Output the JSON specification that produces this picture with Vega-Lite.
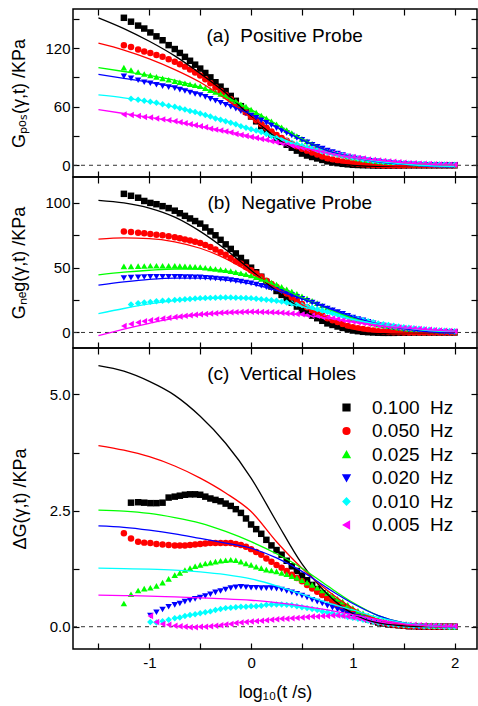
{
"$schema":"https://vega.github.io/schema/vega-lite/v6.json",
"padding":{"left":10,"top":7,"right":0,"bottom":0},
"spacing":0,
"bounds":"flush",
"config":{
 "font":"Liberation Sans",
 "view":{"stroke":"#000","strokeWidth":1.5},
 "axis":{"grid":false,"domain":false,"tickColor":"#000","tickWidth":1.2,"tickSize":-6,"labelFontSize":15,"labelColor":"#000","labelPadding":9,"titleFontSize":18,"titleFontWeight":"normal","titleColor":"#000","labelFont":"Liberation Sans","titleFont":"Liberation Sans","labelOverlap":false,"labelBound":false,"labelFlush":false},
 "legend":{"labelFont":"Liberation Sans","labelColor":"#000"}
},
"datasets":{
"pts":[
{"p":"a","x":-1.25,"s1":151,"s2":123,"s3":100,"s4":91,"s6":52},
{"p":"a","x":-1.18,"s1":147,"s2":121,"s3":97.5,"s4":89,"s5":68,"s6":51.5},
{"p":"a","x":-1.11,"s1":143,"s2":118.5,"s3":95.5,"s4":87,"s5":67,"s6":50.5},
{"p":"a","x":-1.05,"s1":140,"s2":116.5,"s3":93.5,"s4":85,"s5":66,"s6":49.5},
{"p":"a","x":-0.99,"s1":136,"s2":115,"s3":92,"s4":84,"s5":65,"s6":49},
{"p":"a","x":-0.93,"s1":132,"s2":113,"s3":90.5,"s4":82.5,"s5":64,"s6":48},
{"p":"a","x":-0.87,"s1":128,"s2":111,"s3":89,"s4":81,"s5":62.5,"s6":47},
{"p":"a","x":-0.81,"s1":123,"s2":108.5,"s3":87.5,"s4":80,"s5":61,"s6":46},
{"p":"a","x":-0.75,"s1":119,"s2":106,"s3":86,"s4":79,"s5":60,"s6":45},
{"p":"a","x":-0.7,"s1":115,"s2":103.5,"s3":85,"s4":77.5,"s5":58.5,"s6":44},
{"p":"a","x":-0.65,"s1":111,"s2":101,"s3":84,"s4":76,"s5":57,"s6":43},
{"p":"a","x":-0.6,"s1":107,"s2":98,"s3":83,"s4":74.5,"s5":55.5,"s6":42},
{"p":"a","x":-0.55,"s1":103,"s2":95,"s3":82,"s4":73,"s5":54.5,"s6":41},
{"p":"a","x":-0.5,"s1":99,"s2":92,"s3":81,"s4":72,"s5":53,"s6":40},
{"p":"a","x":-0.45,"s1":94.5,"s2":88,"s3":79,"s4":70,"s5":51.5,"s6":39},
{"p":"a","x":-0.4,"s1":90,"s2":84,"s3":77,"s4":68,"s5":50,"s6":37.5},
{"p":"a","x":-0.35,"s1":85,"s2":80,"s3":75,"s4":66,"s5":48,"s6":36.5},
{"p":"a","x":-0.3,"s1":80.5,"s2":76,"s3":73,"s4":64,"s5":46.5,"s6":35.5},
{"p":"a","x":-0.25,"s1":76,"s2":72,"s3":71,"s4":62,"s5":45,"s6":34.5},
{"p":"a","x":-0.2,"s1":71,"s2":67.5,"s3":68,"s4":60,"s5":43.5,"s6":33.5},
{"p":"a","x":-0.15,"s1":66,"s2":63,"s3":65.5,"s4":58,"s5":42,"s6":32},
{"p":"a","x":-0.1,"s1":60.5,"s2":58.5,"s3":62.5,"s4":55.5,"s5":40,"s6":31},
{"p":"a","x":-0.05,"s1":55,"s2":54,"s3":60,"s4":53,"s5":38.5,"s6":30},
{"p":"a","x":0,"s1":50,"s2":50,"s3":57,"s4":51,"s5":37,"s6":29},
{"p":"a","x":0.05,"s1":45,"s2":46,"s3":54,"s4":48.5,"s5":35.5,"s6":28},
{"p":"a","x":0.1,"s1":40,"s2":42,"s3":51,"s4":46,"s5":34,"s6":27},
{"p":"a","x":0.15,"s1":36,"s2":38.5,"s3":48,"s4":43.5,"s5":32,"s6":26},
{"p":"a","x":0.2,"s1":31.5,"s2":34.5,"s3":45,"s4":41,"s5":30,"s6":24.5},
{"p":"a","x":0.25,"s1":27,"s2":31,"s3":42,"s4":38,"s5":28,"s6":23.5},
{"p":"a","x":0.3,"s1":24,"s2":28,"s3":39,"s4":35.5,"s5":26.5,"s6":22.5},
{"p":"a","x":0.35,"s1":21,"s2":25,"s3":36,"s4":33,"s5":25,"s6":21},
{"p":"a","x":0.4,"s1":18,"s2":22,"s3":33,"s4":30.5,"s5":23,"s6":20},
{"p":"a","x":0.45,"s1":15,"s2":19.5,"s3":30,"s4":28,"s5":21.5,"s6":19},
{"p":"a","x":0.5,"s1":12,"s2":17,"s3":27,"s4":26,"s5":20,"s6":18},
{"p":"a","x":0.55,"s1":10,"s2":15,"s3":24.5,"s4":23.5,"s5":18.5,"s6":17},
{"p":"a","x":0.6,"s1":8.5,"s2":13,"s3":22,"s4":21,"s5":17,"s6":16},
{"p":"a","x":0.65,"s1":7,"s2":11,"s3":19.5,"s4":19,"s5":15.5,"s6":15},
{"p":"a","x":0.7,"s1":5.5,"s2":9,"s3":17,"s4":17,"s5":14,"s6":14},
{"p":"a","x":0.75,"s1":4,"s2":7,"s3":15,"s4":15,"s5":13,"s6":13},
{"p":"a","x":0.8,"s1":3,"s2":6,"s3":13.5,"s4":13.5,"s5":12,"s6":12},
{"p":"a","x":0.85,"s1":2.2,"s2":5,"s3":12,"s4":12,"s5":11,"s6":11},
{"p":"a","x":0.9,"s1":1.5,"s2":4,"s3":10.5,"s4":10.5,"s5":10,"s6":10},
{"p":"a","x":0.95,"s1":1,"s2":3,"s3":9,"s4":9,"s5":9,"s6":9},
{"p":"a","x":1,"s1":0.5,"s2":2,"s3":8,"s4":8,"s5":8,"s6":8.5},
{"p":"a","x":1.05,"s1":0.3,"s2":1.5,"s3":7,"s4":7,"s5":7,"s6":7.5},
{"p":"a","x":1.1,"s1":0.1,"s2":1,"s3":6,"s4":6,"s5":6,"s6":7},
{"p":"a","x":1.15,"s1":0,"s2":0.6,"s3":5.3,"s4":5,"s5":5.3,"s6":6},
{"p":"a","x":1.2,"s1":-0.2,"s2":0.3,"s3":4.6,"s4":4.5,"s5":4.6,"s6":5.5},
{"p":"a","x":1.25,"s1":-0.3,"s2":0,"s3":4,"s4":4,"s5":4,"s6":5},
{"p":"a","x":1.3,"s1":-0.3,"s2":-0.2,"s3":3.6,"s4":3.4,"s5":3.5,"s6":4.5},
{"p":"a","x":1.35,"s1":-0.3,"s2":-0.3,"s3":3.2,"s4":2.8,"s5":3,"s6":4},
{"p":"a","x":1.4,"s1":-0.2,"s2":-0.3,"s3":2.8,"s4":2.2,"s5":2.6,"s6":3.5},
{"p":"a","x":1.45,"s1":-0.2,"s2":-0.2,"s3":2.4,"s4":1.8,"s5":2.3,"s6":3},
{"p":"a","x":1.5,"s1":-0.1,"s2":-0.1,"s3":2,"s4":1.5,"s5":2,"s6":2.5},
{"p":"a","x":1.55,"s1":0,"s2":0,"s3":1.8,"s4":1.2,"s5":1.8,"s6":2.2},
{"p":"a","x":1.6,"s1":0,"s2":0,"s3":1.6,"s4":1,"s5":1.6,"s6":2},
{"p":"a","x":1.65,"s1":0,"s2":0,"s3":1.4,"s4":0.8,"s5":1.4,"s6":1.7},
{"p":"a","x":1.7,"s1":0,"s2":0,"s3":1.2,"s4":0.6,"s5":1.2,"s6":1.5},
{"p":"a","x":1.75,"s1":0,"s2":0,"s3":1.1,"s4":0.5,"s5":1,"s6":1.2},
{"p":"a","x":1.8,"s1":0,"s2":0,"s3":1,"s4":0.4,"s5":0.9,"s6":1},
{"p":"a","x":1.85,"s1":0,"s2":0,"s3":0.9,"s4":0.3,"s5":0.8,"s6":0.9},
{"p":"a","x":1.9,"s1":0,"s2":0,"s3":0.8,"s4":0.2,"s5":0.7,"s6":0.7},
{"p":"a","x":1.95,"s1":0,"s2":0,"s3":0.7,"s4":0.1,"s5":0.6,"s6":0.6},
{"p":"a","x":2,"s1":0,"s2":0,"s3":0.6,"s4":0,"s5":0.5,"s6":0.5},
{"p":"b","x":-1.25,"s1":107,"s2":78,"s3":51,"s4":42,"s6":5},
{"p":"b","x":-1.18,"s1":105.5,"s2":77.5,"s3":51,"s4":42.3,"s5":21.5,"s6":6.5},
{"p":"b","x":-1.11,"s1":104,"s2":77,"s3":51.2,"s4":42.6,"s5":22.5,"s6":7.7},
{"p":"b","x":-1.05,"s1":101.5,"s2":76.5,"s3":51.3,"s4":42.8,"s5":23.2,"s6":8.7},
{"p":"b","x":-0.99,"s1":100,"s2":76,"s3":51.5,"s4":43,"s5":23.6,"s6":9.5},
{"p":"b","x":-0.93,"s1":99,"s2":75.5,"s3":51.5,"s4":43,"s5":24,"s6":10.1},
{"p":"b","x":-0.87,"s1":97.5,"s2":75,"s3":51.5,"s4":43,"s5":24.4,"s6":10.7},
{"p":"b","x":-0.81,"s1":96,"s2":74.2,"s3":51.5,"s4":43,"s5":24.7,"s6":11.3},
{"p":"b","x":-0.75,"s1":94,"s2":73.5,"s3":51.5,"s4":43,"s5":25,"s6":12},
{"p":"b","x":-0.7,"s1":92,"s2":72.7,"s3":51.3,"s4":42.9,"s5":25.3,"s6":12.4},
{"p":"b","x":-0.65,"s1":90,"s2":71.8,"s3":51.1,"s4":42.8,"s5":25.6,"s6":12.8},
{"p":"b","x":-0.6,"s1":88,"s2":71,"s3":50.9,"s4":42.7,"s5":25.9,"s6":13.2},
{"p":"b","x":-0.55,"s1":86,"s2":70,"s3":50.7,"s4":42.6,"s5":26.2,"s6":13.6},
{"p":"b","x":-0.5,"s1":84,"s2":69,"s3":50.5,"s4":42.5,"s5":26.5,"s6":14},
{"p":"b","x":-0.45,"s1":81,"s2":67.5,"s3":50,"s4":42.2,"s5":26.6,"s6":14.3},
{"p":"b","x":-0.4,"s1":78,"s2":66,"s3":49.5,"s4":41.9,"s5":26.7,"s6":14.6},
{"p":"b","x":-0.35,"s1":75,"s2":64,"s3":49,"s4":41.6,"s5":26.8,"s6":14.9},
{"p":"b","x":-0.3,"s1":71.5,"s2":62,"s3":48.5,"s4":41.3,"s5":26.9,"s6":15.2},
{"p":"b","x":-0.25,"s1":68,"s2":60,"s3":48,"s4":41,"s5":27,"s6":15.5},
{"p":"b","x":-0.2,"s1":64.5,"s2":57.5,"s3":47.3,"s4":40.4,"s5":26.9,"s6":15.6},
{"p":"b","x":-0.15,"s1":61,"s2":55,"s3":46.5,"s4":39.8,"s5":26.8,"s6":15.7},
{"p":"b","x":-0.1,"s1":57.5,"s2":53,"s3":45.7,"s4":39.2,"s5":26.7,"s6":15.8},
{"p":"b","x":-0.05,"s1":54,"s2":50.5,"s3":44.9,"s4":38.6,"s5":26.6,"s6":15.9},
{"p":"b","x":0,"s1":50,"s2":48,"s3":44,"s4":38,"s5":26.5,"s6":16},
{"p":"b","x":0.05,"s1":46.5,"s2":45.5,"s3":42.7,"s4":37,"s5":26.1,"s6":15.9},
{"p":"b","x":0.1,"s1":43,"s2":43,"s3":41.3,"s4":36,"s5":25.7,"s6":15.8},
{"p":"b","x":0.15,"s1":39,"s2":40,"s3":40,"s4":35,"s5":25.3,"s6":15.7},
{"p":"b","x":0.2,"s1":35.5,"s2":37.5,"s3":38.5,"s4":34,"s5":24.9,"s6":15.6},
{"p":"b","x":0.25,"s1":32,"s2":35,"s3":37,"s4":33,"s5":24.5,"s6":15.5},
{"p":"b","x":0.3,"s1":29,"s2":32.5,"s3":35.2,"s4":31.6,"s5":23.8,"s6":15.2},
{"p":"b","x":0.35,"s1":26,"s2":30,"s3":33.4,"s4":30.2,"s5":23.1,"s6":14.9},
{"p":"b","x":0.4,"s1":23,"s2":27,"s3":31.6,"s4":28.8,"s5":22.4,"s6":14.6},
{"p":"b","x":0.45,"s1":20,"s2":24.5,"s3":29.8,"s4":27.4,"s5":21.7,"s6":14.3},
{"p":"b","x":0.5,"s1":17,"s2":22,"s3":28,"s4":26,"s5":21,"s6":14},
{"p":"b","x":0.55,"s1":15,"s2":19.5,"s3":26.2,"s4":24.5,"s5":20,"s6":13.5},
{"p":"b","x":0.6,"s1":13,"s2":17,"s3":24.4,"s4":23,"s5":19,"s6":13},
{"p":"b","x":0.65,"s1":11,"s2":15,"s3":22.6,"s4":21.5,"s5":18,"s6":12.5},
{"p":"b","x":0.7,"s1":9,"s2":13,"s3":20.8,"s4":20,"s5":17,"s6":12},
{"p":"b","x":0.75,"s1":7,"s2":11,"s3":19,"s4":18.5,"s5":16,"s6":11.5},
{"p":"b","x":0.8,"s1":5.8,"s2":9.5,"s3":17.4,"s4":17.1,"s5":15,"s6":10.9},
{"p":"b","x":0.85,"s1":4.6,"s2":8,"s3":15.8,"s4":15.7,"s5":14,"s6":10.3},
{"p":"b","x":0.9,"s1":3.5,"s2":6.5,"s3":14.2,"s4":14.3,"s5":13,"s6":9.7},
{"p":"b","x":0.95,"s1":2.5,"s2":5,"s3":12.6,"s4":12.9,"s5":12,"s6":9.1},
{"p":"b","x":1,"s1":1.5,"s2":4,"s3":11,"s4":11.5,"s5":11,"s6":8.5},
{"p":"b","x":1.05,"s1":1,"s2":3.3,"s3":10,"s4":10.4,"s5":10.2,"s6":7.9},
{"p":"b","x":1.1,"s1":0.5,"s2":2.6,"s3":9,"s4":9.3,"s5":9.4,"s6":7.3},
{"p":"b","x":1.15,"s1":0.2,"s2":2,"s3":8,"s4":8.2,"s5":8.6,"s6":6.7},
{"p":"b","x":1.2,"s1":0,"s2":1.5,"s3":7,"s4":7.1,"s5":7.8,"s6":6.1},
{"p":"b","x":1.25,"s1":-0.2,"s2":1,"s3":6,"s4":6,"s5":7,"s6":5.5},
{"p":"b","x":1.3,"s1":-0.3,"s2":0.7,"s3":5.4,"s4":5.3,"s5":6.4,"s6":5.1},
{"p":"b","x":1.35,"s1":-0.3,"s2":0.4,"s3":4.8,"s4":4.6,"s5":5.8,"s6":4.7},
{"p":"b","x":1.4,"s1":-0.3,"s2":0.2,"s3":4.2,"s4":3.9,"s5":5.2,"s6":4.3},
{"p":"b","x":1.45,"s1":-0.2,"s2":0.1,"s3":3.6,"s4":3.2,"s5":4.6,"s6":3.9},
{"p":"b","x":1.5,"s1":-0.2,"s2":0,"s3":3,"s4":2.5,"s5":4,"s6":3.5},
{"p":"b","x":1.55,"s1":-0.1,"s2":0,"s3":2.7,"s4":2.1,"s5":3.6,"s6":3.2},
{"p":"b","x":1.6,"s1":0,"s2":0,"s3":2.4,"s4":1.7,"s5":3.2,"s6":2.9},
{"p":"b","x":1.65,"s1":0,"s2":0,"s3":2.1,"s4":1.3,"s5":2.8,"s6":2.6},
{"p":"b","x":1.7,"s1":0,"s2":0,"s3":1.8,"s4":0.9,"s5":2.4,"s6":2.3},
{"p":"b","x":1.75,"s1":0,"s2":0,"s3":1.5,"s4":0.5,"s5":2,"s6":2},
{"p":"b","x":1.8,"s1":0,"s2":0,"s3":1.4,"s4":0.4,"s5":1.8,"s6":1.8},
{"p":"b","x":1.85,"s1":0,"s2":0,"s3":1.2,"s4":0.3,"s5":1.6,"s6":1.6},
{"p":"b","x":1.9,"s1":0,"s2":0,"s3":1.1,"s4":0.2,"s5":1.4,"s6":1.4},
{"p":"b","x":1.95,"s1":0,"s2":0,"s3":0.9,"s4":0.1,"s5":1.2,"s6":1.2},
{"p":"b","x":2,"s1":0,"s2":0,"s3":0.8,"s4":0,"s5":1,"s6":1},
{"p":"c","x":-1.25,"s2":2.01,"s3":0.5},
{"p":"c","x":-1.18,"s1":2.67,"s2":1.9,"s3":0.7},
{"p":"c","x":-1.11,"s1":2.68,"s2":1.83,"s3":0.78},
{"p":"c","x":-1.05,"s1":2.67,"s2":1.81,"s3":0.82},
{"p":"c","x":-0.99,"s1":2.66,"s2":1.8,"s3":0.84,"s4":0.24,"s5":0.1,"s6":0.23},
{"p":"c","x":-0.93,"s1":2.66,"s2":1.78,"s3":0.88,"s4":0.31,"s5":0.09,"s6":0.1},
{"p":"c","x":-0.87,"s1":2.67,"s2":1.77,"s3":0.95,"s4":0.37,"s5":0.12,"s6":0.06},
{"p":"c","x":-0.81,"s1":2.78,"s2":1.76,"s3":1.03,"s4":0.43,"s5":0.15,"s6":0.04},
{"p":"c","x":-0.75,"s1":2.8,"s2":1.75,"s3":1.11,"s4":0.47,"s5":0.18,"s6":0.02},
{"p":"c","x":-0.7,"s1":2.82,"s2":1.75,"s3":1.16,"s4":0.5,"s5":0.2,"s6":0.01},
{"p":"c","x":-0.65,"s1":2.84,"s2":1.75,"s3":1.22,"s4":0.54,"s5":0.23,"s6":0},
{"p":"c","x":-0.6,"s1":2.85,"s2":1.76,"s3":1.26,"s4":0.57,"s5":0.25,"s6":-0.01},
{"p":"c","x":-0.55,"s1":2.85,"s2":1.77,"s3":1.3,"s4":0.6,"s5":0.27,"s6":-0.01},
{"p":"c","x":-0.5,"s1":2.84,"s2":1.78,"s3":1.33,"s4":0.63,"s5":0.29,"s6":0},
{"p":"c","x":-0.45,"s1":2.8,"s2":1.79,"s3":1.36,"s4":0.66,"s5":0.31,"s6":0},
{"p":"c","x":-0.4,"s1":2.76,"s2":1.8,"s3":1.38,"s4":0.7,"s5":0.33,"s6":0.01},
{"p":"c","x":-0.35,"s1":2.73,"s2":1.8,"s3":1.4,"s4":0.74,"s5":0.36,"s6":0.02},
{"p":"c","x":-0.3,"s1":2.7,"s2":1.8,"s3":1.42,"s4":0.77,"s5":0.38,"s6":0.03},
{"p":"c","x":-0.25,"s1":2.65,"s2":1.8,"s3":1.43,"s4":0.8,"s5":0.4,"s6":0.05},
{"p":"c","x":-0.2,"s1":2.6,"s2":1.8,"s3":1.44,"s4":0.83,"s5":0.41,"s6":0.06},
{"p":"c","x":-0.15,"s1":2.53,"s2":1.78,"s3":1.43,"s4":0.85,"s5":0.42,"s6":0.08},
{"p":"c","x":-0.1,"s1":2.45,"s2":1.76,"s3":1.4,"s4":0.86,"s5":0.43,"s6":0.09},
{"p":"c","x":-0.05,"s1":2.33,"s2":1.72,"s3":1.36,"s4":0.85,"s5":0.43,"s6":0.1},
{"p":"c","x":0,"s1":2.2,"s2":1.67,"s3":1.33,"s4":0.84,"s5":0.44,"s6":0.11},
{"p":"c","x":0.05,"s1":2.1,"s2":1.61,"s3":1.29,"s4":0.84,"s5":0.44,"s6":0.12},
{"p":"c","x":0.1,"s1":2,"s2":1.55,"s3":1.26,"s4":0.83,"s5":0.45,"s6":0.13},
{"p":"c","x":0.15,"s1":1.87,"s2":1.47,"s3":1.23,"s4":0.83,"s5":0.47,"s6":0.14},
{"p":"c","x":0.2,"s1":1.75,"s2":1.4,"s3":1.21,"s4":0.83,"s5":0.48,"s6":0.15},
{"p":"c","x":0.25,"s1":1.65,"s2":1.33,"s3":1.19,"s4":0.82,"s5":0.48,"s6":0.16},
{"p":"c","x":0.3,"s1":1.55,"s2":1.27,"s3":1.16,"s4":0.8,"s5":0.48,"s6":0.17},
{"p":"c","x":0.35,"s1":1.42,"s2":1.2,"s3":1.13,"s4":0.77,"s5":0.47,"s6":0.17},
{"p":"c","x":0.4,"s1":1.3,"s2":1.12,"s3":1.09,"s4":0.74,"s5":0.46,"s6":0.18},
{"p":"c","x":0.45,"s1":1.2,"s2":1.05,"s3":1.05,"s4":0.71,"s5":0.44,"s6":0.19},
{"p":"c","x":0.5,"s1":1.1,"s2":0.98,"s3":1,"s4":0.67,"s5":0.42,"s6":0.2},
{"p":"c","x":0.55,"s1":1,"s2":0.9,"s3":0.95,"s4":0.63,"s5":0.4,"s6":0.21},
{"p":"c","x":0.6,"s1":0.9,"s2":0.82,"s3":0.9,"s4":0.58,"s5":0.38,"s6":0.22},
{"p":"c","x":0.65,"s1":0.81,"s2":0.75,"s3":0.84,"s4":0.54,"s5":0.36,"s6":0.22},
{"p":"c","x":0.7,"s1":0.72,"s2":0.68,"s3":0.78,"s4":0.5,"s5":0.33,"s6":0.23},
{"p":"c","x":0.75,"s1":0.63,"s2":0.61,"s3":0.72,"s4":0.45,"s5":0.31,"s6":0.23},
{"p":"c","x":0.8,"s1":0.55,"s2":0.55,"s3":0.67,"s4":0.41,"s5":0.29,"s6":0.24},
{"p":"c","x":0.85,"s1":0.48,"s2":0.48,"s3":0.6,"s4":0.37,"s5":0.26,"s6":0.24},
{"p":"c","x":0.9,"s1":0.42,"s2":0.42,"s3":0.54,"s4":0.33,"s5":0.24,"s6":0.23},
{"p":"c","x":0.95,"s1":0.36,"s2":0.37,"s3":0.47,"s4":0.29,"s5":0.21,"s6":0.22},
{"p":"c","x":1,"s1":0.3,"s2":0.32,"s3":0.4,"s4":0.25,"s5":0.19,"s6":0.2},
{"p":"c","x":1.05,"s1":0.25,"s2":0.26,"s3":0.34,"s4":0.21,"s5":0.17,"s6":0.18},
{"p":"c","x":1.1,"s1":0.2,"s2":0.21,"s3":0.29,"s4":0.18,"s5":0.15,"s6":0.16},
{"p":"c","x":1.15,"s1":0.16,"s2":0.17,"s3":0.24,"s4":0.14,"s5":0.13,"s6":0.14},
{"p":"c","x":1.2,"s1":0.12,"s2":0.13,"s3":0.2,"s4":0.11,"s5":0.11,"s6":0.12},
{"p":"c","x":1.25,"s1":0.09,"s2":0.1,"s3":0.16,"s4":0.09,"s5":0.09,"s6":0.1},
{"p":"c","x":1.3,"s1":0.07,"s2":0.08,"s3":0.13,"s4":0.07,"s5":0.08,"s6":0.09},
{"p":"c","x":1.35,"s1":0.05,"s2":0.06,"s3":0.1,"s4":0.05,"s5":0.06,"s6":0.08},
{"p":"c","x":1.4,"s1":0.04,"s2":0.04,"s3":0.08,"s4":0.04,"s5":0.05,"s6":0.07},
{"p":"c","x":1.45,"s1":0.03,"s2":0.03,"s3":0.06,"s4":0.03,"s5":0.04,"s6":0.06},
{"p":"c","x":1.5,"s1":0.02,"s2":0.02,"s3":0.05,"s4":0.02,"s5":0.03,"s6":0.05},
{"p":"c","x":1.55,"s1":0.01,"s2":0.01,"s3":0.04,"s4":0.01,"s5":0.03,"s6":0.04},
{"p":"c","x":1.6,"s1":0.01,"s2":0.01,"s3":0.03,"s4":0,"s5":0.02,"s6":0.04},
{"p":"c","x":1.65,"s1":0,"s2":0,"s3":0.03,"s4":-0.01,"s5":0.02,"s6":0.03},
{"p":"c","x":1.7,"s1":0,"s2":0,"s3":0.02,"s4":-0.01,"s5":0.01,"s6":0.03},
{"p":"c","x":1.75,"s1":0,"s2":0,"s3":0.02,"s5":0.01,"s6":0.02},
{"p":"c","x":1.8,"s1":0,"s2":0,"s3":0.01,"s5":0.01,"s6":0.02},
{"p":"c","x":1.85,"s1":0,"s2":0,"s3":0.01,"s5":0.01,"s6":0.01},
{"p":"c","x":1.9,"s1":0,"s2":0,"s3":0.01,"s5":0,"s6":0.01},
{"p":"c","x":1.95,"s1":0,"s2":0,"s3":0,"s5":0,"s6":0.01},
{"p":"c","x":2,"s1":0,"s2":0,"s3":0,"s5":0,"s6":0.01}
],
"fit":[
{"p":"a","x":-1.5,"s1":151,"s2":125,"s3":100,"s4":93,"s5":72,"s6":57},
{"p":"a","x":-1.25,"s1":140,"s2":118,"s3":96,"s4":89,"s5":69,"s6":53},
{"p":"a","x":-1,"s1":127,"s2":109,"s3":92,"s4":85,"s5":65,"s6":49},
{"p":"a","x":-0.75,"s1":112,"s2":98,"s3":87,"s4":80,"s5":59.5,"s6":45},
{"p":"a","x":-0.5,"s1":94,"s2":85,"s3":80,"s4":73,"s5":53,"s6":40},
{"p":"a","x":-0.25,"s1":74,"s2":68,"s3":70,"s4":63,"s5":45.5,"s6":35},
{"p":"a","x":0,"s1":50,"s2":49,"s3":57,"s4":52,"s5":37,"s6":29.5},
{"p":"a","x":0.25,"s1":28,"s2":32,"s3":42,"s4":39,"s5":28.5,"s6":24},
{"p":"a","x":0.5,"s1":12,"s2":19,"s3":27,"s4":26,"s5":20,"s6":18},
{"p":"a","x":0.75,"s1":3,"s2":8,"s3":15,"s4":15,"s5":13,"s6":13},
{"p":"a","x":1,"s1":0,"s2":2.5,"s3":8,"s4":8,"s5":8,"s6":8},
{"p":"a","x":1.25,"s1":-1,"s2":0,"s3":4,"s4":3.5,"s5":4,"s6":5},
{"p":"a","x":1.5,"s1":-0.5,"s2":-0.5,"s3":2,"s4":1,"s5":1.3,"s6":2.5},
{"p":"a","x":1.75,"s1":0,"s2":0,"s3":1,"s4":-1,"s5":-0.5,"s6":1},
{"p":"a","x":2,"s1":0,"s2":0,"s3":0.5,"s4":-1.5,"s5":-1,"s6":0.3},
{"p":"b","x":-1.5,"s1":102,"s2":72,"s3":44.5,"s4":36.5,"s5":14.5,"s6":-2.5},
{"p":"b","x":-1.25,"s1":100,"s2":73,"s3":46.5,"s4":39,"s5":18.5,"s6":2.5},
{"p":"b","x":-1,"s1":96,"s2":72.5,"s3":48,"s4":41,"s5":22,"s6":7},
{"p":"b","x":-0.75,"s1":89,"s2":70,"s3":49,"s4":42,"s5":24.5,"s6":11},
{"p":"b","x":-0.5,"s1":78,"s2":65,"s3":49,"s4":42,"s5":26,"s6":13.5},
{"p":"b","x":-0.25,"s1":64,"s2":57,"s3":47.5,"s4":40.5,"s5":26.5,"s6":15},
{"p":"b","x":0,"s1":48,"s2":46,"s3":43.5,"s4":37.5,"s5":26,"s6":15.5},
{"p":"b","x":0.25,"s1":32,"s2":34,"s3":36,"s4":32.5,"s5":24,"s6":15},
{"p":"b","x":0.5,"s1":18,"s2":21.5,"s3":27,"s4":26,"s5":20,"s6":13.5},
{"p":"b","x":0.75,"s1":7,"s2":11,"s3":18.5,"s4":19,"s5":15,"s6":11},
{"p":"b","x":1,"s1":1.5,"s2":4,"s3":11,"s4":12,"s5":10,"s6":8},
{"p":"b","x":1.25,"s1":-1,"s2":0.5,"s3":6,"s4":6.5,"s5":6.5,"s6":5.5},
{"p":"b","x":1.5,"s1":-0.8,"s2":-0.5,"s3":3,"s4":3,"s5":3.5,"s6":3.5},
{"p":"b","x":1.75,"s1":-0.3,"s2":-0.3,"s3":1.5,"s4":0.5,"s5":1.5,"s6":2},
{"p":"b","x":2,"s1":0,"s2":0,"s3":0.8,"s4":-0.5,"s5":0.8,"s6":1},
{"p":"c","x":-1.5,"s1":5.62,"s2":3.9,"s3":2.51,"s4":2.17,"s5":1.26,"s6":0.68},
{"p":"c","x":-1.25,"s1":5.5,"s2":3.8,"s3":2.49,"s4":2.14,"s5":1.25,"s6":0.67},
{"p":"c","x":-1,"s1":5.28,"s2":3.66,"s3":2.44,"s4":2.08,"s5":1.24,"s6":0.66},
{"p":"c","x":-0.75,"s1":4.98,"s2":3.46,"s3":2.35,"s4":2,"s5":1.22,"s6":0.64},
{"p":"c","x":-0.5,"s1":4.53,"s2":3.2,"s3":2.23,"s4":1.9,"s5":1.18,"s6":0.62},
{"p":"c","x":-0.25,"s1":3.95,"s2":2.88,"s3":2.05,"s4":1.8,"s5":1.12,"s6":0.6},
{"p":"c","x":0,"s1":3.2,"s2":2.48,"s3":1.83,"s4":1.69,"s5":1.03,"s6":0.57},
{"p":"c","x":0.25,"s1":2.26,"s2":1.83,"s3":1.57,"s4":1.48,"s5":0.88,"s6":0.52},
{"p":"c","x":0.5,"s1":1.35,"s2":1.26,"s3":1.26,"s4":1.19,"s5":0.7,"s6":0.45},
{"p":"c","x":0.75,"s1":0.7,"s2":0.78,"s3":0.88,"s4":0.83,"s5":0.52,"s6":0.36},
{"p":"c","x":1,"s1":0.28,"s2":0.4,"s3":0.52,"s4":0.5,"s5":0.36,"s6":0.26},
{"p":"c","x":1.25,"s1":0.08,"s2":0.15,"s3":0.24,"s4":0.24,"s5":0.2,"s6":0.15},
{"p":"c","x":1.5,"s1":0.02,"s2":0.05,"s3":0.08,"s4":0.08,"s5":0.08,"s6":0.06},
{"p":"c","x":1.75,"s1":0,"s2":0.01,"s3":0.02,"s4":0.02,"s5":0.02,"s6":0.02},
{"p":"c","x":2,"s1":0,"s2":0,"s3":0,"s4":0,"s5":0,"s6":0}
]
},
"resolve":{"scale":{"color":"independent","shape":"independent"},"legend":{"color":"independent","shape":"independent"}},
"vconcat":[
{
 "width":404,"height":168,
 "layer":[
  {"data":{"values":[{}]},"mark":{"type":"rule","strokeDash":[4,4],"stroke":"#333","strokeWidth":1},
   "encoding":{"y":{"datum":0,"type":"quantitative","scale":{"domain":[-12,160],"nice":false,"zero":false},"axis":null}}},
  {"data":{"name":"pts"},
   "transform":[{"filter":"datum.p==='a'"},{"fold":["s1","s2","s3","s4","s5","s6"],"as":["s","v"]},{"filter":"isValid(datum.v)"}],
   "mark":{"type":"point","filled":true,"size":42,"opacity":1,"clip":true},
   "encoding":{
    "x":{"field":"x","type":"quantitative","scale":{"domain":[-1.75,2.22],"nice":false,"zero":false},"axis":{"orient":"bottom","values":[-1.5,-1,-0.5,0,0.5,1,1.5,2],"labels":false,"title":null}},
    "y":{"field":"v","type":"quantitative","scale":{"domain":[-12,160],"nice":false,"zero":false},"axis":{"orient":"left","values":[0,30,60,90,120,150],"labelExpr":"datum.value % 60 === 0 ? '' + datum.value : ''","title":"Gₚₒₛ(γ,t) /KPa","titlePadding":16}},
    "color":{"field":"s","type":"nominal","scale":{"domain":["s1","s2","s3","s4","s5","s6"],"range":["#000000","#ff0000","#00ff00","#0000ff","#00ffff","#ff00ff"]},"legend":null},
    "shape":{"field":"s","type":"nominal","scale":{"domain":["s1","s2","s3","s4","s5","s6"],"range":["square","circle","triangle-up","triangle-down","diamond","triangle-left"]},"legend":null},
    "order":{"field":"s","type":"ordinal"}
   }},
  {"data":{"name":"fit"},
   "transform":[{"filter":"datum.p==='a'"},{"fold":["s1","s2","s3","s4","s5","s6"],"as":["s","v"]},{"filter":"isValid(datum.v)"}],
   "mark":{"type":"line","interpolate":"monotone","strokeWidth":1.3,"clip":true},
   "encoding":{
    "x":{"field":"x","type":"quantitative","scale":{"domain":[-1.75,2.22],"nice":false,"zero":false},"axis":{"orient":"top","values":[-1.5,-1,-0.5,0,0.5,1,1.5,2],"labels":false,"title":null}},
    "y":{"field":"v","type":"quantitative","scale":{"domain":[-12,160],"nice":false,"zero":false},"axis":{"orient":"right","values":[0,30,60,90,120,150],"labels":false,"title":null}},
    "color":{"field":"s","type":"nominal","scale":{"domain":["s1","s2","s3","s4","s5","s6"],"range":["#000000","#ff0000","#00ff00","#0000ff","#00ffff","#ff00ff"]},"legend":null}
   }},
  {"data":{"values":[{}]},"mark":{"type":"text","fontSize":19,"font":"Liberation Sans","color":"#000","align":"center","baseline":"middle"},
   "encoding":{"x":{"datum":0.33,"type":"quantitative","axis":null},"y":{"datum":132,"type":"quantitative","axis":null},"text":{"value":"(a)\u00a0\u00a0Positive Probe"}}}
 ],
 "resolve":{"axis":{"x":"independent","y":"independent"}}
},
{
 "width":404,"height":171,
 "layer":[
  {"data":{"values":[{}]},"mark":{"type":"rule","strokeDash":[4,4],"stroke":"#333","strokeWidth":1},
   "encoding":{"y":{"datum":0,"type":"quantitative","scale":{"domain":[-12,120],"nice":false,"zero":false},"axis":null}}},
  {"data":{"name":"pts"},
   "transform":[{"filter":"datum.p==='b'"},{"fold":["s1","s2","s3","s4","s5","s6"],"as":["s","v"]},{"filter":"isValid(datum.v)"}],
   "mark":{"type":"point","filled":true,"size":42,"opacity":1,"clip":true},
   "encoding":{
    "x":{"field":"x","type":"quantitative","scale":{"domain":[-1.75,2.22],"nice":false,"zero":false},"axis":{"orient":"bottom","values":[-1.5,-1,-0.5,0,0.5,1,1.5,2],"labels":false,"title":null}},
    "y":{"field":"v","type":"quantitative","scale":{"domain":[-12,120],"nice":false,"zero":false},"axis":{"orient":"left","values":[0,25,50,75,100],"labelExpr":"datum.value % 50 === 0 ? '' + datum.value : ''","title":"Gₙₑg(γ,t) /KPa","titlePadding":16}},
    "color":{"field":"s","type":"nominal","scale":{"domain":["s1","s2","s3","s4","s5","s6"],"range":["#000000","#ff0000","#00ff00","#0000ff","#00ffff","#ff00ff"]},"legend":null},
    "shape":{"field":"s","type":"nominal","scale":{"domain":["s1","s2","s3","s4","s5","s6"],"range":["square","circle","triangle-up","triangle-down","diamond","triangle-left"]},"legend":null},
    "order":{"field":"s","type":"ordinal"}
   }},
  {"data":{"name":"fit"},
   "transform":[{"filter":"datum.p==='b'"},{"fold":["s1","s2","s3","s4","s5","s6"],"as":["s","v"]},{"filter":"isValid(datum.v)"}],
   "mark":{"type":"line","interpolate":"monotone","strokeWidth":1.3,"clip":true},
   "encoding":{
    "x":{"field":"x","type":"quantitative","scale":{"domain":[-1.75,2.22],"nice":false,"zero":false},"axis":{"orient":"top","values":[-1.5,-1,-0.5,0,0.5,1,1.5,2],"labels":false,"title":null}},
    "y":{"field":"v","type":"quantitative","scale":{"domain":[-12,120],"nice":false,"zero":false},"axis":{"orient":"right","values":[0,25,50,75,100],"labels":false,"title":null}},
    "color":{"field":"s","type":"nominal","scale":{"domain":["s1","s2","s3","s4","s5","s6"],"range":["#000000","#ff0000","#00ff00","#0000ff","#00ffff","#ff00ff"]},"legend":null}
   }},
  {"data":{"values":[{}]},"mark":{"type":"text","fontSize":19,"font":"Liberation Sans","color":"#000","align":"center","baseline":"middle"},
   "encoding":{"x":{"datum":0.38,"type":"quantitative","axis":null},"y":{"datum":99.7,"type":"quantitative","axis":null},"text":{"value":"(b)\u00a0\u00a0Negative Probe"}}}
 ],
 "resolve":{"axis":{"x":"independent","y":"independent"}}
},
{
 "width":404,"height":301,
 "layer":[
  {"data":{"values":[{}]},"mark":{"type":"rule","strokeDash":[4,4],"stroke":"#333","strokeWidth":1},
   "encoding":{"y":{"datum":0,"type":"quantitative","scale":{"domain":[-0.48,6],"nice":false,"zero":false},"axis":null}}},
  {"data":{"name":"pts"},
   "transform":[{"filter":"datum.p==='c'"},{"fold":["s1","s2","s3","s4","s5","s6"],"as":["s","v"]},{"filter":"isValid(datum.v)"}],
   "mark":{"type":"point","filled":true,"size":42,"opacity":1,"clip":true},
   "encoding":{
    "x":{"field":"x","type":"quantitative","scale":{"domain":[-1.75,2.22],"nice":false,"zero":false},"axis":{"orient":"bottom","values":[-1.5,-1,-0.5,0,0.5,1,1.5,2],"labelExpr":"datum.value % 1 === 0 ? (datum.value < 0 ? '-' + abs(datum.value) : '' + datum.value) : ''","title":"log₁₀(t /s)","labelPadding":12,"titlePadding":13}},
    "y":{"field":"v","type":"quantitative","scale":{"domain":[-0.48,6],"nice":false,"zero":false},"axis":{"orient":"left","values":[0,1.25,2.5,3.75,5],"labelExpr":"datum.value % 2.5 === 0 ? format(datum.value, '.1f') : ''","title":"ΔG(γ,t) /KPa","titlePadding":20}},
    "color":{"field":"s","type":"nominal","scale":{"domain":["s1","s2","s3","s4","s5","s6"],"range":["#000000","#ff0000","#00ff00","#0000ff","#00ffff","#ff00ff"]},
      "legend":{"orient":"none","legendX":264,"legendY":50,"title":null,"padding":0,"labelFontSize":19,"labelOffset":16,"symbolSize":45,"rowPadding":3.5,"labelExpr":"datum.value==='s1'?'0.100\u00a0\u00a0Hz':datum.value==='s2'?'0.050\u00a0\u00a0Hz':datum.value==='s3'?'0.025\u00a0\u00a0Hz':datum.value==='s4'?'0.020\u00a0\u00a0Hz':datum.value==='s5'?'0.010\u00a0\u00a0Hz':'0.005\u00a0\u00a0Hz'"}},
    "shape":{"field":"s","type":"nominal","scale":{"domain":["s1","s2","s3","s4","s5","s6"],"range":["square","circle","triangle-up","triangle-down","diamond","triangle-left"]},
      "legend":{"orient":"none","legendX":264,"legendY":50,"title":null,"padding":0,"labelFontSize":19,"labelOffset":16,"symbolSize":45,"rowPadding":3.5,"labelExpr":"datum.value==='s1'?'0.100\u00a0\u00a0Hz':datum.value==='s2'?'0.050\u00a0\u00a0Hz':datum.value==='s3'?'0.025\u00a0\u00a0Hz':datum.value==='s4'?'0.020\u00a0\u00a0Hz':datum.value==='s5'?'0.010\u00a0\u00a0Hz':'0.005\u00a0\u00a0Hz'"}},
    "order":{"field":"s","type":"ordinal"}
   }},
  {"data":{"name":"fit"},
   "transform":[{"filter":"datum.p==='c'"},{"fold":["s1","s2","s3","s4","s5","s6"],"as":["s","v"]},{"filter":"isValid(datum.v)"}],
   "mark":{"type":"line","interpolate":"monotone","strokeWidth":1.3,"clip":true},
   "encoding":{
    "x":{"field":"x","type":"quantitative","scale":{"domain":[-1.75,2.22],"nice":false,"zero":false},"axis":{"orient":"top","values":[-1.5,-1,-0.5,0,0.5,1,1.5,2],"labels":false,"title":null}},
    "y":{"field":"v","type":"quantitative","scale":{"domain":[-0.48,6],"nice":false,"zero":false},"axis":{"orient":"right","values":[0,1.25,2.5,3.75,5],"labels":false,"title":null}},
    "color":{"field":"s","type":"nominal","scale":{"domain":["s1","s2","s3","s4","s5","s6"],"range":["#000000","#ff0000","#00ff00","#0000ff","#00ffff","#ff00ff"]},"legend":null}
   }},
  {"data":{"values":[{}]},"mark":{"type":"text","fontSize":19,"font":"Liberation Sans","color":"#000","align":"center","baseline":"middle"},
   "encoding":{"x":{"datum":0.3,"type":"quantitative","axis":null},"y":{"datum":5.43,"type":"quantitative","axis":null},"text":{"value":"(c)\u00a0\u00a0Vertical Holes"}}}
 ],
 "resolve":{"axis":{"x":"independent","y":"independent"}}
}
]
}
